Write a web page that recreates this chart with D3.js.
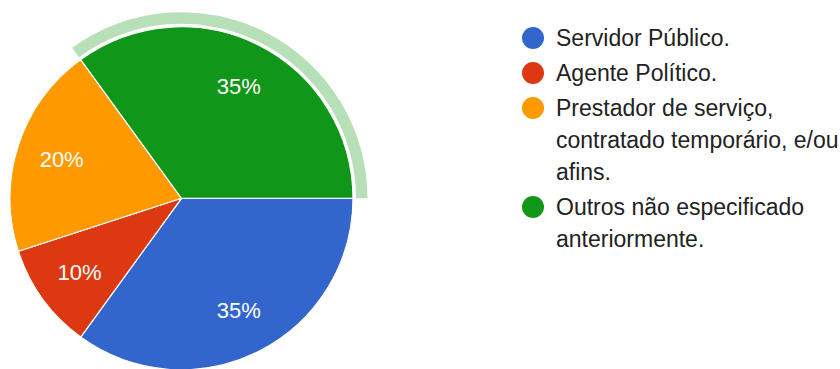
<!DOCTYPE html>
<html>
<head>
<meta charset="utf-8">
<script src="https://cdn.jsdelivr.net/npm/d3@7/dist/d3.min.js"></script>
<style>
  html, body { margin: 0; padding: 0; background: #fff; }
  svg { display: block; }
  text { font-family: "Liberation Sans", Arial, sans-serif; }
</style>
</head>
<body>
<svg id="chart" width="840" height="369"></svg>
<script>
// Response categories and their shares (percent)
const categories = [
  ["Servidor Público."],
  ["Agente Político."],
  ["Prestador de serviço,", "contratado temporário, e/ou", "afins."],
  ["Outros não especificado", "anteriormente."]
];
const values = [35, 10, 20, 35];
const colors = ["#3366cc", "#dc3912", "#ff9900", "#109618"];
const highlighted = 3; // slice with the selection ring

const data = values.map((v, i) => ({ label: categories[i], value: v, color: colors[i], i }));

const svg = d3.select("#chart");
const cx = 181.5, cy = 198.3, r = 171.5;

const pie = d3.pie()
  .value(d => d.value)
  .sort(null)
  .startAngle(Math.PI / 2)
  .endAngle(Math.PI / 2 + 2 * Math.PI);

const arcs = pie(data);
const arc = d3.arc().innerRadius(0).outerRadius(r);
const ring = d3.arc().innerRadius(r + 3).outerRadius(r + 14.5);
const labelArc = d3.arc().innerRadius(126).outerRadius(126);

const g = svg.append("g").attr("transform", `translate(${cx},${cy})`);

// selection ring around the highlighted slice
g.append("path")
  .datum(arcs[highlighted])
  .attr("d", ring)
  .attr("fill", "#b7dfb8");

g.selectAll("path.slice")
  .data(arcs)
  .join("path")
  .attr("class", "slice")
  .attr("d", arc)
  .attr("fill", d => d.data.color)
  .attr("stroke", "#fff")
  .attr("stroke-width", 1.2);

g.selectAll("text.pct")
  .data(arcs)
  .join("text")
  .attr("class", "pct")
  .attr("transform", d => `translate(${labelArc.centroid(d)})`)
  .attr("text-anchor", "middle")
  .attr("dy", "0.36em")
  .attr("fill", "#fff")
  .style("font-size", "22px")
  .text(d => d3.format(".0%")(d.data.value / d3.sum(values)));

// legend
const legendX = 533, textX = 556;
const lineH = 32, entryGap = 3;
let baseline = 46;
const legend = svg.append("g");
data.forEach(d => {
  legend.append("circle")
    .attr("cx", legendX)
    .attr("cy", baseline - 8)
    .attr("r", 11)
    .attr("fill", d.color);
  const t = legend.append("text")
    .attr("x", textX)
    .attr("y", baseline)
    .attr("fill", "#222")
    .style("font-size", "23px");
  d.label.forEach((line, k) => {
    t.append("tspan")
      .attr("x", textX)
      .attr("dy", k === 0 ? 0 : lineH)
      .text(line);
  });
  baseline += d.label.length * lineH + entryGap;
});
</script>
</body>
</html>
